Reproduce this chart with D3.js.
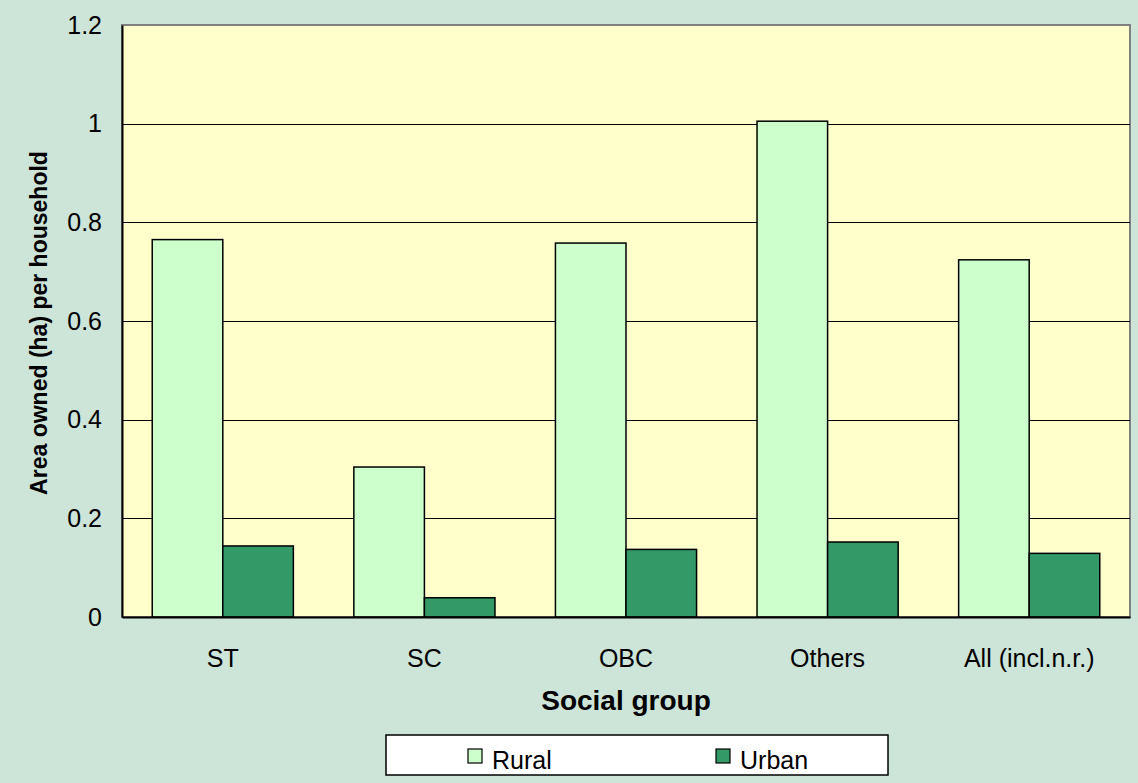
<!DOCTYPE html>
<html>
<head>
<meta charset="utf-8">
<script src="https://cdn.jsdelivr.net/npm/d3@7"></script>
<style>
  body { margin: 0; background: #cde4d8; }
  svg { display: block; font-family: Arial, "Liberation Sans", sans-serif; }
</style>
</head>
<body>
<svg id="chart" width="1138" height="783"></svg>
<script>
// chart data
var groups = ["ST", "SC", "OBC", "Others", "All (incl.n.r.)"];
var seriesNames = ["Rural", "Urban"];
var rural = [0.765, 0.304, 0.758, 1.005, 0.724];
var urban = [0.144, 0.039, 0.137, 0.152, 0.129];
var yTicks = [0, 0.2, 0.4, 0.6, 0.8, 1, 1.2];

var colors = { Rural: "#ccffcc", Urban: "#339966" };
var font = "Arial, 'Liberation Sans', sans-serif";

var svg = d3.select("#chart");
var W = 1138, H = 783;
var margin = { left: 122, right: 8, top: 25, bottom: 166 };
var plotW = W - margin.left - margin.right;
var plotH = H - margin.top - margin.bottom;

svg.append("rect").attr("width", W).attr("height", H).attr("fill", "#cde4d8");

var g = svg.append("g").attr("transform", "translate(" + margin.left + "," + margin.top + ")");

var x = d3.scaleBand().domain(groups).range([0, plotW]).paddingInner(0.3).paddingOuter(0.15);
var xs = d3.scaleBand().domain(seriesNames).range([0, x.bandwidth()]);
var y = d3.scaleLinear().domain([0, 1.2]).range([plotH, 0]);

// plot area
g.append("rect")
  .attr("width", plotW).attr("height", plotH)
  .attr("fill", "#ffffcc")
  .attr("stroke", "#808080").attr("stroke-width", 2);

// gridlines
g.selectAll(".grid")
  .data(yTicks.filter(d => d > 0 && d < 1.2))
  .enter().append("line")
  .attr("x1", 0).attr("x2", plotW)
  .attr("y1", d => Math.round(y(d)) + 0.5).attr("y2", d => Math.round(y(d)) + 0.5)
  .attr("stroke", "#000").attr("stroke-width", 1);

// bars
var rows = groups.map((name, i) => ({ name: name, Rural: rural[i], Urban: urban[i] }));
var grp = g.selectAll(".grp").data(rows).enter().append("g")
  .attr("transform", d => "translate(" + x(d.name) + ",0)");

grp.selectAll("rect")
  .data(d => seriesNames.map(s => ({ key: s, value: d[s] })))
  .enter().append("rect")
  .attr("x", d => xs(d.key))
  .attr("y", d => y(d.value))
  .attr("width", xs.bandwidth())
  .attr("height", d => plotH - y(d.value))
  .attr("fill", d => colors[d.key])
  .attr("stroke", "#000").attr("stroke-width", 1.5);

// axes
var yAxis = g.append("g")
  .call(d3.axisLeft(y).tickValues(yTicks).tickSize(0).tickPadding(20).tickFormat(d3.format("")));
yAxis.attr("font-size", 25).attr("font-family", font);
yAxis.select(".domain").attr("stroke", "#000").attr("stroke-width", 2);
yAxis.selectAll("text").attr("fill", "#000");

var xAxis = g.append("g").attr("transform", "translate(0," + plotH + ")")
  .call(d3.axisBottom(x).tickSize(0).tickPadding(32));
xAxis.attr("font-size", 25).attr("font-family", font);
xAxis.select(".domain").attr("stroke", "#000").attr("stroke-width", 2);
xAxis.selectAll("text").attr("fill", "#000");

// axis titles
svg.append("text")
  .attr("x", margin.left + plotW / 2).attr("y", 710)
  .attr("text-anchor", "middle")
  .attr("font-size", 28).attr("font-weight", "bold")
  .text("Social group");

svg.append("text")
  .attr("transform", "translate(47,323) rotate(-90)")
  .attr("text-anchor", "middle")
  .attr("font-size", 23).attr("font-weight", "bold")
  .text("Area owned (ha) per household");

// legend
var legend = svg.append("g");
legend.append("rect")
  .attr("x", 386).attr("y", 735).attr("width", 502).attr("height", 40)
  .attr("fill", "#fff").attr("stroke", "#000").attr("stroke-width", 1.5);

var legX = [468, 716];
seriesNames.forEach(function(s, i) {
  legend.append("rect")
    .attr("x", legX[i]).attr("y", 749).attr("width", 14).attr("height", 14)
    .attr("fill", colors[s]).attr("stroke", "#000").attr("stroke-width", 1.2);
  legend.append("text")
    .attr("x", legX[i] + 24).attr("y", 769)
    .attr("font-size", 25)
    .text(s);
});
</script>
</body>
</html>
